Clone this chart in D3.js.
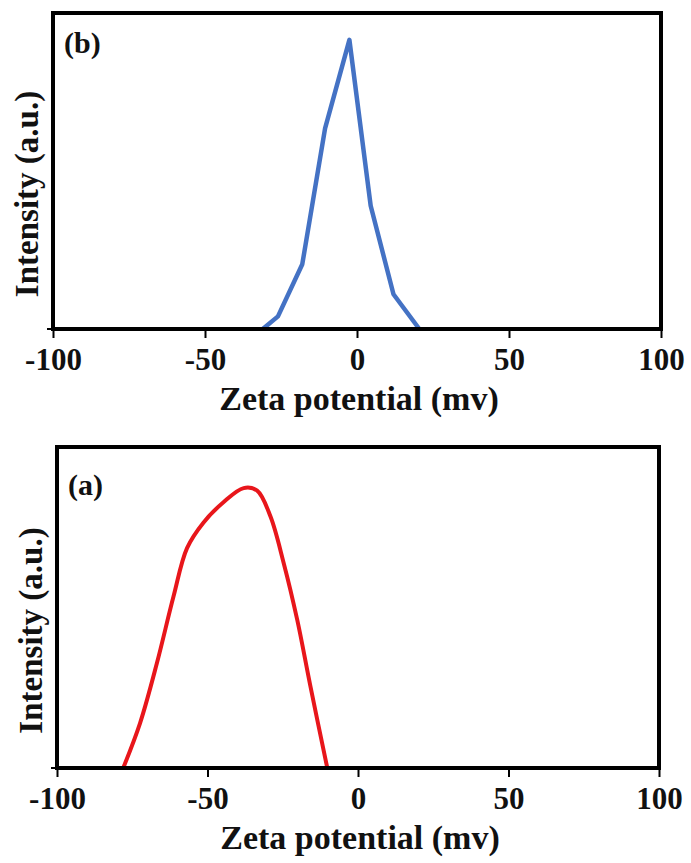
<!DOCTYPE html>
<html>
<head>
<meta charset="utf-8">
<script src="https://cdn.jsdelivr.net/npm/d3@7"></script>
<style>
  body { margin: 0; background: #fff; }
  text { font-family: "Liberation Serif", "Times New Roman", serif; font-weight: bold; fill: #111; }
</style>
</head>
<body>
<svg width="691" height="863"></svg>
<script>
// panel (b) - blue polyline
var bZeta = [-31, -26, -18, -10.5, -2.5, 4.5, 12, 20.5];
var bIntensity = [0, 4, 20.5, 63.5, 91.5, 39, 11, 0];

// panel (a) - red smooth curve
var aZeta = [-78, -72.4, -66.8, -61.3, -56.8, -51.3, -44.7, -38, -33.5, -29.1, -24.7, -20.2, -15.8, -10.2];
var aIntensity = [0, 14, 32.7, 53.4, 68.5, 76.5, 82.8, 87.2, 86.4, 78.4, 63.9, 46.2, 25.4, 0];

var xTicks = [-100, -50, 0, 50, 100];

var svg = d3.select("svg");

function panel(opts) {
  var x = d3.scaleLinear().domain([-100, 100]).range([opts.left, opts.right]);
  var y = d3.scaleLinear().domain([0, 100]).range([opts.bottom, opts.top]);
  var g = svg.append("g");

  // plot line
  var pts = opts.xs.map(function(d, i) { return [d, opts.ys[i]]; });
  var line = d3.line()
    .x(function(d) { return x(d[0]); })
    .y(function(d) { return y(d[1]); })
    .curve(opts.curve);
  g.append("path")
    .datum(pts)
    .attr("d", line)
    .attr("fill", "none")
    .attr("stroke", opts.color)
    .attr("stroke-width", opts.lw)
    .attr("stroke-linejoin", "round");

  // frame
  g.append("rect")
    .attr("x", opts.left)
    .attr("y", opts.top)
    .attr("width", opts.right - opts.left)
    .attr("height", opts.bottom - opts.top)
    .attr("fill", "none")
    .attr("stroke", "#000")
    .attr("stroke-width", 4);

  // x axis (plain hyphen for the minus, like the original)
  var ax = g.append("g")
    .attr("transform", "translate(0," + opts.bottom + ")")
    .call(d3.axisBottom(x).tickValues(xTicks).tickSize(9).tickSizeOuter(0).tickPadding(10)
      .tickFormat(function(d) { return String(d); }));
  ax.select(".domain").remove();
  ax.selectAll("line").attr("stroke", "#000").attr("stroke-width", 2);
  ax.selectAll("text")
    .attr("font-size", 31)
    .attr("dy", "0.72em")
    .style("font-family", "'Liberation Serif', serif")
    .style("font-weight", "bold")
    .attr("fill", "#111");

  // small left tick at the origin
  g.append("line")
    .attr("x1", opts.left - 6).attr("x2", opts.left)
    .attr("y1", opts.bottom).attr("y2", opts.bottom)
    .attr("stroke", "#000").attr("stroke-width", 2);

  // axis titles
  g.append("text")
    .attr("x", (opts.left + opts.right) / 2 + 2)
    .attr("y", opts.bottom + 81)
    .attr("text-anchor", "middle")
    .attr("font-size", 34)
    .text("Zeta potential (mv)");

  g.append("text")
    .attr("transform", "translate(" + (opts.left - 15) + "," + ((opts.top + opts.bottom) / 2 + 23) + ") rotate(-90)")
    .attr("text-anchor", "middle")
    .attr("font-size", 33)
    .text("Intensity (a.u.)");

  g.append("text")
    .attr("x", opts.left + 11)
    .attr("y", opts.top + opts.tagDy)
    .attr("font-size", 30)
    .text(opts.tag);
}

panel({ left: 53, right: 661, top: 13, bottom: 329, xs: bZeta, ys: bIntensity,
        color: "#4472c4", lw: 4.5, curve: d3.curveLinear, tag: "(b)", tagDy: 40 });
panel({ left: 57, right: 659, top: 447, bottom: 768, xs: aZeta, ys: aIntensity,
        color: "#e8161b", lw: 4, curve: d3.curveCatmullRom.alpha(0.5), tag: "(a)", tagDy: 48 });
</script>
</body>
</html>
